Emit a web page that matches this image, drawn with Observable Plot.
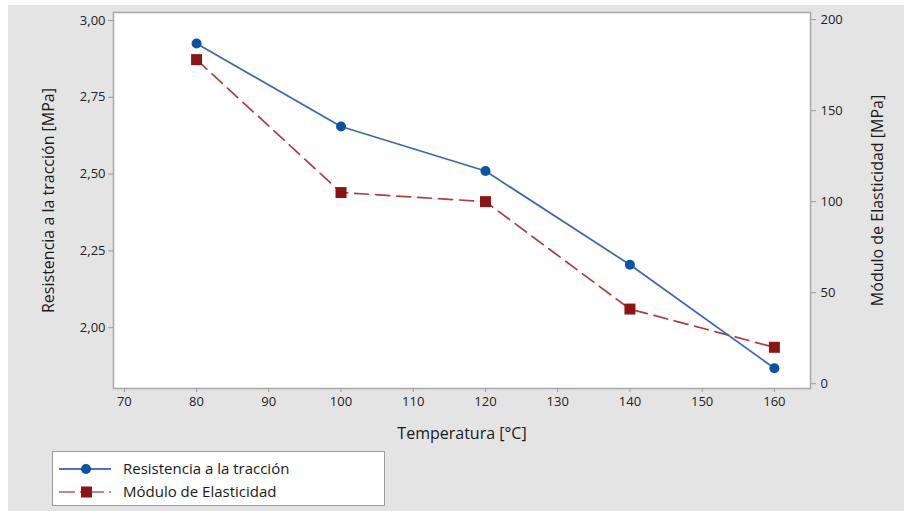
<!DOCTYPE html>
<html>
<head>
<meta charset="utf-8">
<script src="https://cdn.jsdelivr.net/npm/d3@7"></script>
<script src="https://cdn.jsdelivr.net/npm/@observablehq/plot@0.6"></script>
<style>
  html, body { margin: 0; padding: 0; background: #ffffff; }
  #wrap { position: absolute; left: 8px; top: 5px; width: 896px; height: 506px; background: #e4e4e4; overflow: hidden; }
  #legend { position: absolute; left: 44px; top: 446px; width: 333px; height: 55px; background: #ffffff; border: 1px solid #9a9a9a; box-sizing: border-box; }
  #legend svg { display: block; }
</style>
</head>
<body>
<div id="wrap">
  <div id="chart"></div>
  <div id="legend"></div>
</div>
<script>
const temperatures = [80, 100, 120, 140, 160];
const resistencia = [2.925, 2.655, 2.51, 2.205, 1.868];
const modulo = [178, 105, 100, 41, 20];
const leftTicks = [2.00, 2.25, 2.50, 2.75, 3.00];
const rightTicks = [0, 50, 100, 150, 200];
const xTicks = [70, 80, 90, 100, 110, 120, 130, 140, 150, 160];
const seriesNames = ["Resistencia a la tracción", "Módulo de Elasticidad"];

// map right-axis (MPa modulus) values onto the left scale
const rightToLeft = d3.scaleLinear().domain([0, 200]).range([1.8176, 3.003]);

const resData = temperatures.map((t, i) => ({t, v: resistencia[i]}));
const modData = temperatures.map((t, i) => ({t, v: rightToLeft(modulo[i])}));

const fmtComma = d => d.toFixed(2).replace(".", ",");
const font = "'Open Sans', 'Noto Sans', sans-serif";

const chart = Plot.plot({
  width: 896,
  height: 440,
  marginLeft: 105,
  marginRight: 94,
  marginTop: 7,
  marginBottom: 57,
  style: {background: "transparent", fontFamily: font, fontSize: "13px", color: "#222"},
  x: {domain: [68.5, 165], ticks: xTicks},
  y: {domain: [1.802, 3.026]},
  marks: [
    Plot.frame({fill: "white", stroke: "#a8a8a8", strokeWidth: 1.5}),
    Plot.axisX({ticks: xTicks, tickSize: 4, tickPadding: 4, stroke: "#999", fill: "#222", fontSize: 13,
      label: "Temperatura [°C]", labelAnchor: "center", labelArrow: "none", labelOffset: 50}),
    Plot.axisY({ticks: leftTicks, tickFormat: fmtComma, tickSize: 5, tickPadding: 3, stroke: "#999", fill: "#222", fontSize: 13,
      label: "Resistencia a la tracción [MPa]", labelAnchor: "center", labelArrow: "none", labelOffset: 71}),
    Plot.axisY({anchor: "right", ticks: rightTicks.map(v => rightToLeft(v)), tickFormat: d => String(Math.round(rightToLeft.invert(d))),
      tickSize: 5, tickPadding: 5, stroke: "#999", fill: "#222", fontSize: 13,
      label: "Módulo de Elasticidad [MPa]", labelAnchor: "center", labelArrow: "none", labelOffset: 72}),
    Plot.line(modData, {x: "t", y: "v", stroke: "#a84040", strokeWidth: 1.7, strokeDasharray: "14,7"}),
    Plot.line(resData, {x: "t", y: "v", stroke: "#3a66b5", strokeWidth: 1.7}),
    Plot.dot(modData, {x: "t", y: "v", symbol: "square", r: 6.2, fill: "#8e1414", stroke: "none"}),
    Plot.dot(resData, {x: "t", y: "v", r: 5, fill: "#0a52a8", stroke: "none"})
  ]
});
d3.select(chart).selectAll("[aria-label='x-axis label'] text, [aria-label='y-axis label'] text")
  .style("font-size", "16px").style("fill", "#1a1a1a");
document.getElementById("chart").appendChild(chart);

// legend
const leg = d3.select("#legend").append("svg").attr("width", 331).attr("height", 53);
const rows = [
  {name: seriesNames[0], color: "#1f3f8f", dash: null, marker: "circle", mfill: "#0a52a8"},
  {name: seriesNames[1], color: "#b55a5a", dash: "16,5,3,5", marker: "square", mfill: "#8e1414"}
];
rows.forEach((r, i) => {
  const y = 17 + i * 23;
  const ln = leg.append("line").attr("x1", 6).attr("x2", 58).attr("y1", y).attr("y2", y)
    .attr("stroke", r.color).attr("stroke-width", 1.6);
  if (r.dash) ln.attr("stroke-dasharray", r.dash);
  if (r.marker === "circle") leg.append("circle").attr("cx", 33).attr("cy", y).attr("r", 5).attr("fill", r.mfill);
  else leg.append("rect").attr("x", 28).attr("y", y - 5.5).attr("width", 11).attr("height", 11).attr("fill", r.mfill);
  leg.append("text").attr("x", 70).attr("y", y + 5).attr("font-family", font).attr("font-size", 15).attr("fill", "#1a1a1a").text(r.name);
});
</script>
</body>
</html>
